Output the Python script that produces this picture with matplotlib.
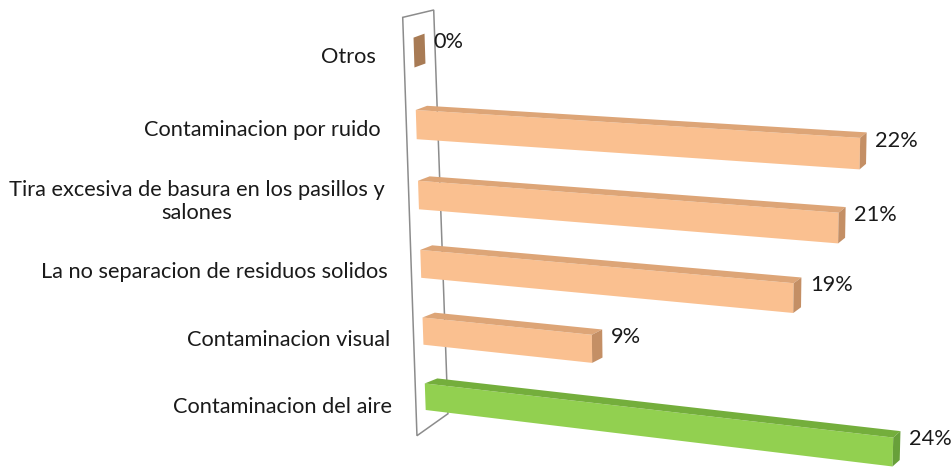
"""Recreate the 3D horizontal bar chart (survey of environmental problems)
using a small hand-made oblique/perspective projection on a flat axes."""
import matplotlib.pyplot as plt
import numpy as np
from matplotlib.patches import Polygon

# -----------------------------------------------------------------------------
# Data (bottom to top)
# -----------------------------------------------------------------------------
categories = [
    "Contaminacion del aire",
    "Contaminacion visual",
    "La no separacion de residuos solidos",
    "Tira excesiva de basura en los pasillos y\nsalones",
    "Contaminacion por ruido",
    "Otros",
]
values = [24, 8.6, 18.8, 21, 22, 0]          # percent
bar_kind = ["green", "orange", "orange", "orange", "orange", "brown"]

# face colours: front, top, side
PALETTE = {
    "green": ("#92D050", "#74AE3C", "#68A03A"),
    "orange": ("#FAC090", "#DDA577", "#C48F65"),
    "brown": ("#C49A6C", "#B0865C", "#A87B55"),
}

W, H = 953, 468
BAR_H = 0.41          # bar thickness in category units
WALL_V = -0.5         # side wall sits just left of the zero line
WALL_Y = (-0.42, 5.68)


# -----------------------------------------------------------------------------
# Projection: (value %, category position, depth) -> pixel coordinates
# -----------------------------------------------------------------------------
def front(v, y):
    k = 19.45 + 0.17 * y            # px per percent grows slightly upward
    s = 0.121 - 0.0132 * y          # bars fall to the right, less near the top
    x0 = 425.7 - 2.25 * y
    y0 = 410 - 64.5 * y - 0.8 * y ** 2
    return np.array([x0 + k * v, y0 + s * k * v])


def bar_depth(v, y):
    return np.array([12.5 - 0.22 * v - 0.3 * y, -(5 + 0.06 * v - 0.2 * y)])


def wall_depth(y):
    return np.array([31.0, -22 + 2.4 * (y - WALL_Y[0])])


fig = plt.figure(figsize=(W / 100, H / 100), dpi=100)
ax = fig.add_axes([0, 0, 1, 1])
ax.set_xlim(0, W)
ax.set_ylim(H, 0)
ax.axis("off")

FONT = dict(family="Lato", size=15.7, color="#1a1a1a")

# side wall outline
y0, y1 = WALL_Y
wall = [front(WALL_V, y0), front(WALL_V, y1),
        front(WALL_V, y1) + wall_depth(y1), front(WALL_V, y0) + wall_depth(y0)]
ax.add_patch(Polygon(wall, closed=True, facecolor="white",
                     edgecolor="#8c8c8c", lw=1.1, zorder=1))

# bars, drawn top row first
for i in reversed(range(len(values))):
    v = values[i]
    c_front, c_top, c_side = PALETTE[bar_kind[i]]
    yb, yt = i, i + BAR_H

    if v > 0:
        face = [front(0, yb), front(v, yb), front(v, yt), front(0, yt)]
        ax.add_patch(Polygon(face, closed=True, facecolor=c_front,
                             edgecolor="none", zorder=3))
        top = [front(0, yt), front(v, yt),
               front(v, yt) + bar_depth(v, i), front(0, yt) + bar_depth(0, i)]
        ax.add_patch(Polygon(top, closed=True, facecolor=c_top,
                             edgecolor="none", zorder=3))
    side = [front(v, yb), front(v, yt),
            front(v, yt) + bar_depth(v, i), front(v, yb) + bar_depth(v, i)]
    ax.add_patch(Polygon(side, closed=True, facecolor=c_side,
                         edgecolor="none", zorder=3))

    # value label at the bar end
    lx, ly = front(v, i + 0.3) + bar_depth(v, i)
    ax.text(lx + 9, ly, f"{v:.0f}%", ha="left", va="center", zorder=4, **FONT)

    # category label, right edge follows the slanted wall
    cy = front(0, i + 0.05 + 0.02 * i)[1]
    cx = 392 - 1.2 * i - 0.4 * i ** 2
    ax.text(cx, cy, categories[i], ha="right", va="center",
            multialignment="center", linespacing=1.2, zorder=4, **FONT)

plt.savefig("out.png", dpi=100)
plt.close()
